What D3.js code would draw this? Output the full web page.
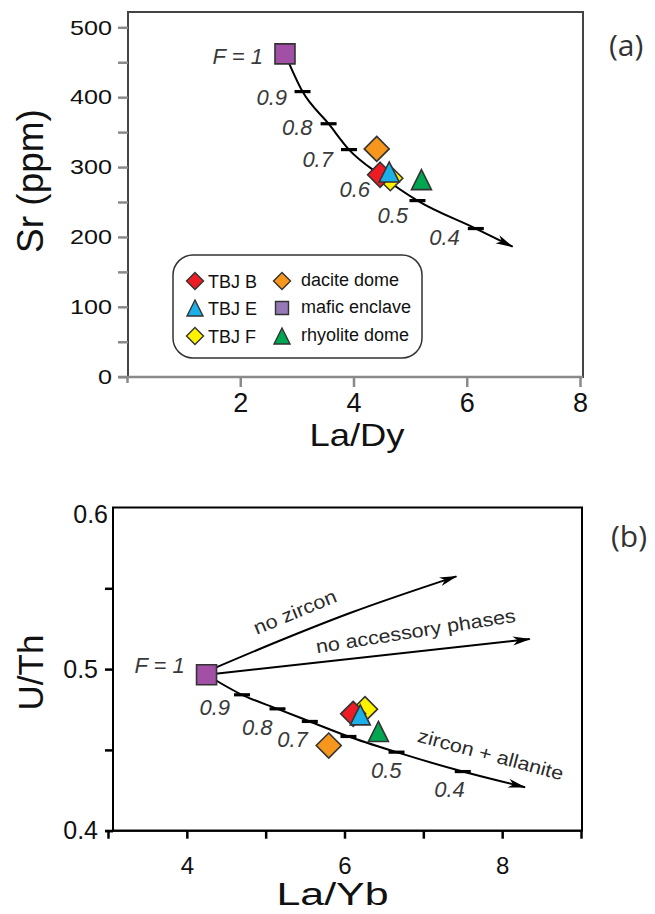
<!DOCTYPE html>
<html>
<head>
<meta charset="utf-8">
<script src="https://d3js.org/d3.v7.min.js"></script>
<style>
  body { margin: 0; background: #fff; }
  svg { display: block; font-family: "Liberation Sans", Arial, sans-serif; }
</style>
</head>
<body>
<div id="chart"></div>
<script>
// samples (drawing order)
const sampleNames = ["dacite dome", "mafic enclave", "TBJ F", "TBJ B", "TBJ E", "rhyolite dome"];
const laDy = [4.41, 2.79, 4.65, 4.47, 4.63, 5.20];
const srPpm = [326, 462, 284, 289, 293, 282];
const laYb = [5.80, 4.25, 6.26, 6.11, 6.20, 6.43];
const uTh = [0.4527, 0.4965, 0.4752, 0.4723, 0.4717, 0.4614];

// fractional crystallisation model, F = 1, 0.9 ... 0.4, then arrow end
const fLabels = ["F = 1", "0.9", "0.8", "0.7", "0.6", "0.5", "0.4"];
const modelLaDy = [2.79, 3.10, 3.56, 3.92, 4.48, 5.13, 6.16, 6.81];
const modelSr = [462, 408, 362, 325, 288, 252, 212, 186];
const modelLaYb = [4.25, 4.70, 5.15, 5.56, 6.05, 6.66, 7.50, 8.29];
const modelUTh = [0.4965, 0.4841, 0.4754, 0.4676, 0.4583, 0.4486, 0.4366, 0.4269];

// other vectors in (b)
const noZirconLaYb = [4.25, 5.20, 6.07, 7.42];
const noZirconUTh = [0.4985, 0.5180, 0.5347, 0.5574];
const noAccLaYb = [4.25, 8.35];
const noAccUTh = [0.4965, 0.5186];

const srTicks = [0, 50, 100, 150, 200, 250, 300, 350, 400, 450, 500];
const laDyTicks = [0, 2, 4, 6, 8];
const uThTicks = [0.4, 0.45, 0.5, 0.55, 0.6];
const laYbTicks = [3, 4, 5, 6, 7, 8, 9];

const legendCols = [["TBJ B", "TBJ E", "TBJ F"], ["dacite dome", "mafic enclave", "rhyolite dome"]];

const style = {
  "TBJ B": { shape: "diamond", color: "#ed1c24" },
  "TBJ E": { shape: "triangle", color: "#1cb0ea" },
  "TBJ F": { shape: "diamond", color: "#fff200" },
  "dacite dome": { shape: "diamond", color: "#f7961c" },
  "mafic enclave": { shape: "square", color: "#a24fa6", legend: "#9479b6" },
  "rhyolite dome": { shape: "triangle", color: "#00a650" }
};

function shapePath(shape, s) {
  if (shape === "diamond") return `M0,${-s}L${s},0L0,${s}L${-s},0Z`;
  if (shape === "triangle") return `M0,${-s}L${s},${s}L${-s},${s}Z`;
  return `M${-s},${-s}H${s}V${s}H${-s}Z`;
}
function markerSize(shape) {
  return shape === "diamond" ? 12.5 : 10;
}

const svg = d3.select("#chart").append("svg")
  .attr("width", 655).attr("height", 914);

svg.append("defs").append("marker")
  .attr("id", "arrow")
  .attr("viewBox", "0 0 18 10")
  .attr("refX", 17).attr("refY", 5)
  .attr("markerWidth", 18).attr("markerHeight", 10)
  .attr("markerUnits", "userSpaceOnUse")
  .attr("orient", "auto")
  .append("path")
  .attr("d", "M0,0.5L18,5L0,9.5L5,5Z")
  .attr("fill", "#000");

function drawCurve(g, xs, ys, x, y, curve) {
  const pts = xs.map((v, i) => [x(v), y(ys[i])]);
  g.append("path")
    .attr("d", d3.line().curve(curve)(pts))
    .attr("fill", "none")
    .attr("stroke", "#000")
    .attr("stroke-width", 2)
    .attr("marker-end", "url(#arrow)");
}

function drawTicksOnCurve(g, xs, ys, x, y) {
  // little bars at F = 0.9 ... 0.4
  for (let i = 1; i < xs.length - 1; i++) {
    g.append("line")
      .attr("x1", x(xs[i]) - 8).attr("x2", x(xs[i]) + 8)
      .attr("y1", y(ys[i])).attr("y2", y(ys[i]))
      .attr("stroke", "#000").attr("stroke-width", 3.2);
  }
}

function drawFLabels(g, xs, ys, x, y, offsets, size) {
  fLabels.forEach((t, i) => {
    const o = offsets[i];
    if (!o) return;
    g.append("text")
      .attr("x", x(xs[i]) + o[0]).attr("y", y(ys[i]) + o[1])
      .attr("text-anchor", "end")
      .attr("font-style", "italic")
      .attr("font-size", size)
      .attr("fill", "#3a3a3a")
      .text(t);
  });
}

function drawSamples(g, xs, ys, x, y) {
  sampleNames.forEach((name, i) => {
    const st = style[name];
    g.append("path")
      .attr("transform", `translate(${x(xs[i])},${y(ys[i])})`)
      .attr("d", shapePath(st.shape, markerSize(st.shape)))
      .attr("fill", st.color)
      .attr("stroke", "#333")
      .attr("stroke-width", 1.6)
      .attr("stroke-linejoin", "miter");
  });
}

// ---------- panel (a) ----------
const xA = d3.scaleLinear().domain([0, 8]).range([127, 580]);
const yA = d3.scaleLinear().domain([0, 500]).range([376.7, 27.3]);
const gA = svg.append("g");

gA.append("rect")
  .attr("x", 128).attr("y", 12).attr("width", 455).attr("height", 365)
  .attr("fill", "none").attr("stroke", "#444").attr("stroke-width", 2);

const axAy = gA.append("g")
  .attr("transform", "translate(128,0)")
  .call(d3.axisLeft(yA).tickValues(srTicks).tickSize(10).tickPadding(6)
    .tickFormat(d => d % 100 === 0 ? d : ""));
axAy.select(".domain").remove();
axAy.selectAll("line").attr("stroke", "#8a8a8a").attr("stroke-width", 2.5);
axAy.selectAll("text")
  .attr("font-size", 21).attr("fill", "#111")
  .attr("font-family", "Liberation Sans, Arial, sans-serif")
  .attr("textLength", function (d) { return d % 100 === 0 ? String(d).length * 14 : null; })
  .attr("lengthAdjust", "spacingAndGlyphs");

const axAx = gA.append("g")
  .attr("transform", "translate(0,377)")
  .call(d3.axisBottom(xA).tickValues(laDyTicks).tickSize(10).tickPadding(6)
    .tickFormat(d => d === 0 ? "" : d));
axAx.select(".domain").attr("stroke", "#8a8a8a").attr("stroke-width", 2.5)
  .attr("d", "M118,0H583");
axAx.selectAll("line").attr("stroke", "#8a8a8a").attr("stroke-width", 2.5)
  .attr("y2", d => d === 0 ? 6 : 10);
axAx.selectAll("text").attr("font-size", 27).attr("fill", "#111")
  .attr("font-family", "Liberation Sans, Arial, sans-serif");

gA.append("text")
  .attr("transform", "translate(43,181) rotate(-90)")
  .attr("text-anchor", "middle").attr("font-size", 37).attr("fill", "#111")
  .text("Sr (ppm)");
gA.append("text")
  .attr("x", 357).attr("y", 446)
  .attr("text-anchor", "middle").attr("font-size", 32).attr("fill", "#111")
  .attr("textLength", 95).attr("lengthAdjust", "spacingAndGlyphs")
  .text("La/Dy");

drawCurve(gA, modelLaDy, modelSr, xA, yA, d3.curveMonotoneX);
drawTicksOnCurve(gA, modelLaDy, modelSr, xA, yA);
drawFLabels(gA, modelLaDy, modelSr, xA, yA,
  [[-22, 10.5], [-15.5, 13.3], [-16, 11], [-16, 17], [-10.6, 21.6], [-9.5, 22], [-16, 16]], 22);
drawSamples(gA, laDy, srPpm, xA, yA);

// legend
const leg = gA.append("g");
leg.append("rect")
  .attr("x", 173).attr("y", 255).attr("width", 249).attr("height", 103)
  .attr("rx", 20).attr("ry", 20)
  .attr("fill", "#fff").attr("stroke", "#333").attr("stroke-width", 1.5);
const legColX = [195, 282];
const legTextX = [208, 301];
const legRowY = [281, 308, 336];
legendCols.forEach((col, c) => {
  col.forEach((name, r) => {
    const st = style[name];
    const s = st.shape === "diamond" ? 8.5 : st.shape === "triangle" ? 8 : 6.5;
    leg.append("path")
      .attr("transform", `translate(${legColX[c]},${legRowY[r]})`)
      .attr("d", shapePath(st.shape, s))
      .attr("fill", st.legend || st.color)
      .attr("stroke", "#333").attr("stroke-width", 1.4);
    leg.append("text")
      .attr("x", legTextX[c]).attr("y", legRowY[r] + 6 + (c === 0 ? 1 : -1))
      .attr("font-size", 18).attr("fill", "#111")
      .text(name);
  });
});

svg.append("text")
  .attr("x", 609).attr("y", 56)
  .attr("font-family", "Open Sans, sans-serif")
  .attr("font-size", 30).attr("fill", "#333")
  .text("(a)");

// ---------- panel (b) ----------
const xB = d3.scaleLinear().domain([3, 9]).range([108, 581]);
const yB = d3.scaleLinear().domain([0.4, 0.6]).range([830.7, 507.5]);
const gB = svg.append("g");

gB.append("rect")
  .attr("x", 113).attr("y", 507.5).attr("width", 469).attr("height", 323.2)
  .attr("fill", "none").attr("stroke", "#000").attr("stroke-width", 2);

const axBy = gB.append("g")
  .attr("transform", "translate(113,0)")
  .call(d3.axisLeft(yB).tickValues(uThTicks).tickSize(8).tickPadding(7)
    .tickFormat(d => (Math.round(d * 100) % 10 === 0) ? d3.format(".1f")(d) : ""));
axBy.select(".domain").remove();
axBy.selectAll("line").attr("stroke", "#000").attr("stroke-width", 2.5)
  .attr("x2", d => d === 0.6 ? 0 : -8);
axBy.selectAll("text").attr("font-size", 25).attr("fill", "#111")
  .attr("font-family", "Liberation Sans, Arial, sans-serif")
  .attr("x", d => d === 0.6 ? -5 : -15)
  .attr("dy", d => d === 0.6 ? "0.6em" : "0.32em");

const axBx = gB.append("g")
  .attr("transform", "translate(0,830.7)")
  .call(d3.axisBottom(xB).tickValues(laYbTicks).tickSize(8).tickPadding(18)
    .tickFormat(d => d % 2 === 0 ? d : ""));
axBx.select(".domain").attr("stroke", "#000").attr("stroke-width", 2)
  .attr("d", "M105,0H582");
axBx.selectAll("line").attr("stroke", "#000").attr("stroke-width", 2.5);
axBx.selectAll("text").attr("font-size", 24).attr("fill", "#111")
  .attr("font-family", "Liberation Sans, Arial, sans-serif");

gB.append("text")
  .attr("transform", "translate(43,672.5) rotate(-90)")
  .attr("text-anchor", "middle").attr("font-size", 35).attr("fill", "#111")
  .text("U/Th");
gB.append("text")
  .attr("x", 332.5).attr("y", 905)
  .attr("text-anchor", "middle").attr("font-size", 31).attr("fill", "#111")
  .attr("textLength", 112).attr("lengthAdjust", "spacingAndGlyphs")
  .text("La/Yb");

drawCurve(gB, noZirconLaYb, noZirconUTh, xB, yB, d3.curveMonotoneX);
drawCurve(gB, noAccLaYb, noAccUTh, xB, yB, d3.curveLinear);
drawCurve(gB, modelLaYb, modelUTh, xB, yB, d3.curveMonotoneX);
drawTicksOnCurve(gB, modelLaYb, modelUTh, xB, yB);
drawFLabels(gB, modelLaYb, modelUTh, xB, yB,
  [[-21.7, -2], [-12, 20], [-5, 26], [-2, 26], null, [5, 26], [2, 25]], 22);

const vecLabels = [
  { text: "no zircon", x: 297.5, y: 618, rot: -22.5, len: 88 },
  { text: "no accessory phases", x: 416.7, y: 637.5, rot: -9, len: 202 },
  { text: "zircon + allanite", x: 489, y: 761, rot: 15, len: 150 }
];
vecLabels.forEach(v => {
  gB.append("text")
    .attr("transform", `translate(${v.x},${v.y}) rotate(${v.rot})`)
    .attr("text-anchor", "middle").attr("font-size", 19).attr("fill", "#2a2a2a")
    .attr("textLength", v.len).attr("lengthAdjust", "spacingAndGlyphs")
    .text(v.text);
});

drawSamples(gB, laYb, uTh, xB, yB);

svg.append("text")
  .attr("x", 611).attr("y", 547)
  .attr("font-family", "Open Sans, sans-serif")
  .attr("font-size", 30).attr("fill", "#333")
  .text("(b)");
</script>
</body>
</html>
